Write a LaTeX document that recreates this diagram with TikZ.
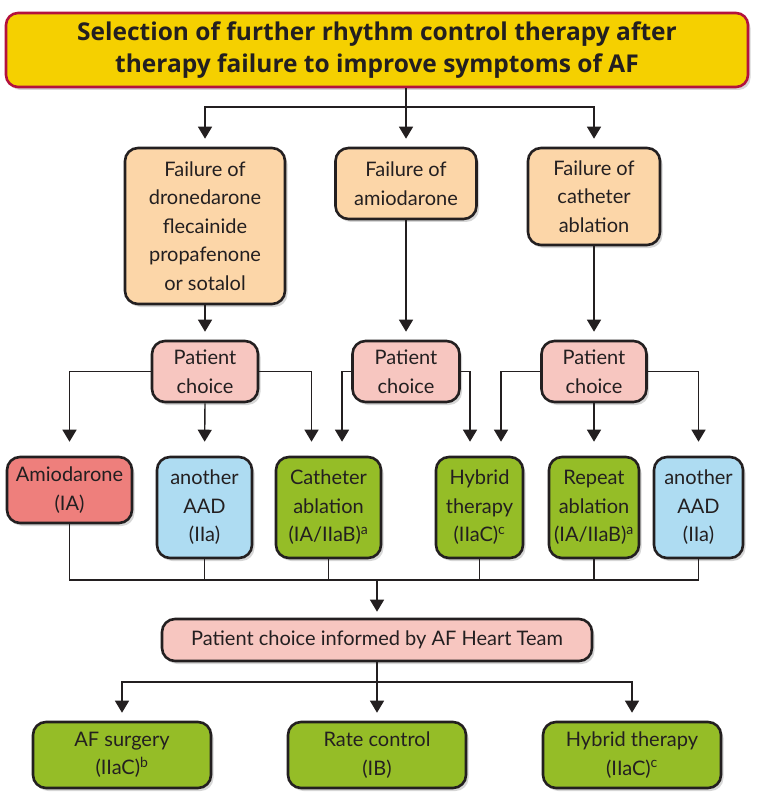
\documentclass[tikz,border=0pt]{standalone}
\usepackage{fontspec}
\setmainfont{Lato}
\newfontfamily\titlefont{Open Sans}
\usetikzlibrary{arrows.meta,shadows}
\definecolor{titlefill}{HTML}{F5D000}
\definecolor{titleedge}{HTML}{B3123D}
\definecolor{orangefill}{HTML}{FCD6A8}
\definecolor{pinkfill}{HTML}{F7C6C0}
\definecolor{redfill}{HTML}{EE7F7C}
\definecolor{bluefill}{HTML}{AEDCF2}
\definecolor{greenfill}{HTML}{95BD27}
\definecolor{edgeblack}{HTML}{231F20}
\begin{document}
\begin{tikzpicture}[x=1pt,y=-1pt,
  box/.style={draw=edgeblack, line width=2.6pt, rounded corners=13pt, align=center,
    inner sep=0pt, text=edgeblack,
    font={\fontsize{20}{28.5}\selectfont},
    drop shadow={shadow xshift=2.5pt, shadow yshift=-3pt, opacity=0.16, fill=black}},
  titlebox/.style={box, draw=titleedge, fill=titlefill, rounded corners=12pt,
    font={\titlefont\fontsize{24.5}{32}\selectfont\bfseries}},
  orangebox/.style={box, fill=orangefill},
  pinkbox/.style={box, fill=pinkfill},
  redbox/.style={box, fill=redfill},
  bluebox/.style={box, fill=bluefill},
  greenbox/.style={box, fill=greenfill},
  conn/.style={draw=edgeblack, line width=1.4pt, -{Triangle[width=14pt,length=12pt]}, shorten >=8pt},
  connlong/.style={conn, shorten >=14pt},
  line/.style={draw=edgeblack, line width=1.4pt}
]
\useasboundingbox (0,0) rectangle (768,810);

% title
\node[titlebox, minimum width=742pt, minimum height=74pt] (title) at (377,50)
  {Selection of further rhythm control therapy after\\therapy failure to improve symptoms of AF};

% row 2
\node[orangebox, minimum width=160pt, minimum height=156pt] (A) at (205,226)
  {Failure of\\dronedarone\\flecainide\\propafenone\\or sotalol};
\node[orangebox, minimum width=141pt, minimum height=71pt] (B) at (406,183.5)
  {Failure of\\amiodarone};
\node[orangebox, minimum width=132pt, minimum height=97pt] (C) at (594,196.5)
  {Failure of\\catheter\\ablation};

% patient choice
\node[pinkbox, minimum width=106pt, minimum height=61pt] (P1) at (205,371.5) {Patient\\choice};
\node[pinkbox, minimum width=107pt, minimum height=61pt] (P2) at (406,371.5) {Patient\\choice};
\node[pinkbox, minimum width=105pt, minimum height=61pt] (P3) at (594,371.5) {Patient\\choice};

% row 4
\node[redbox, minimum width=125pt, minimum height=66pt] (Amio) at (69.5,490) {Amiodarone\\(IA)};
\node[bluebox, minimum width=95pt, minimum height=101pt] (AAD1) at (204.5,507.5) {another\\AAD\\(IIa)};
\node[greenbox, minimum width=105pt, minimum height=101pt] (Cath) at (328.5,507.5) {Catheter\\ablation\\(IA/IIaB)\textsuperscript{a}};
\node[greenbox, minimum width=87pt, minimum height=101pt] (Hyb) at (479.5,507.5) {Hybrid\\therapy\\(IIaC)\textsuperscript{c}};
\node[greenbox, minimum width=90pt, minimum height=101pt] (Rep) at (594,507.5) {Repeat\\ablation\\(IA/IIaB)\textsuperscript{a}};
\node[bluebox, minimum width=89pt, minimum height=101pt] (AAD2) at (698.5,507.5) {another\\AAD\\(IIa)};

% heart team
\node[pinkbox, minimum width=430pt, minimum height=42pt] (PB) at (377,640) {Patient choice informed by AF Heart Team};

% bottom row
\node[greenbox, minimum width=178pt, minimum height=66pt] (AFs) at (122,755) {AF surgery\\(IIaC)\textsuperscript{b}};
\node[greenbox, minimum width=178pt, minimum height=66pt] (Rate) at (377,755) {Rate control\\(IB)};
\node[greenbox, minimum width=178pt, minimum height=66pt] (HybB) at (632,755) {Hybrid therapy\\(IIaC)\textsuperscript{c}};

% connectors from title
\coordinate (j1) at (406,107);
\draw[line] (B.north |- title.south) -- (j1);
\draw[conn] (j1) -- (B.north);
\draw[conn] (j1) -| (A.north);
\draw[conn] (j1) -| (C.north);

% row2 to patient choice
\draw[conn] (A.south) -- (P1.north);
\draw[conn] (B.south) -- (P2.north);
\draw[conn] (C.south) -- (P3.north);

% patient choice to row 4
\draw[connlong] (P1.west) -| (Amio.north);
\draw[connlong] (P1.south) -- (AAD1.north);
\draw[connlong] (P1.east) -| ([xshift=-17pt]Cath.north);
\draw[connlong] (P2.west) -| ([xshift=13.5pt]Cath.north);
\draw[connlong] (P2.east) -| ([xshift=-9.5pt]Hyb.north);
\draw[connlong] (P3.west) -| ([xshift=21.5pt]Hyb.north);
\draw[connlong] (P3.south) -- (Rep.north);
\draw[connlong] (P3.east) -| (AAD2.north);

% merge
\coordinate (m) at (377,580);
\draw[line] (Amio.south) |- (AAD2.south |- m) -- (AAD2.south);
\draw[line] (AAD1.south) -- (AAD1.south |- m);
\draw[line] (Cath.south) -- (Cath.south |- m);
\draw[line] (Hyb.south) -- (Hyb.south |- m);
\draw[line] (Rep.south) -- (Rep.south |- m);
\draw[conn, shorten >=6pt] (m) -- (PB.north);

% heart team to bottom
\coordinate (j2) at (377,682);
\draw[line] (PB.south) -- (j2);
\draw[conn] (j2) -- (Rate.north);
\draw[conn] (j2) -| (AFs.north);
\draw[conn] (j2) -| (HybB.north);
\end{tikzpicture}
\end{document}
